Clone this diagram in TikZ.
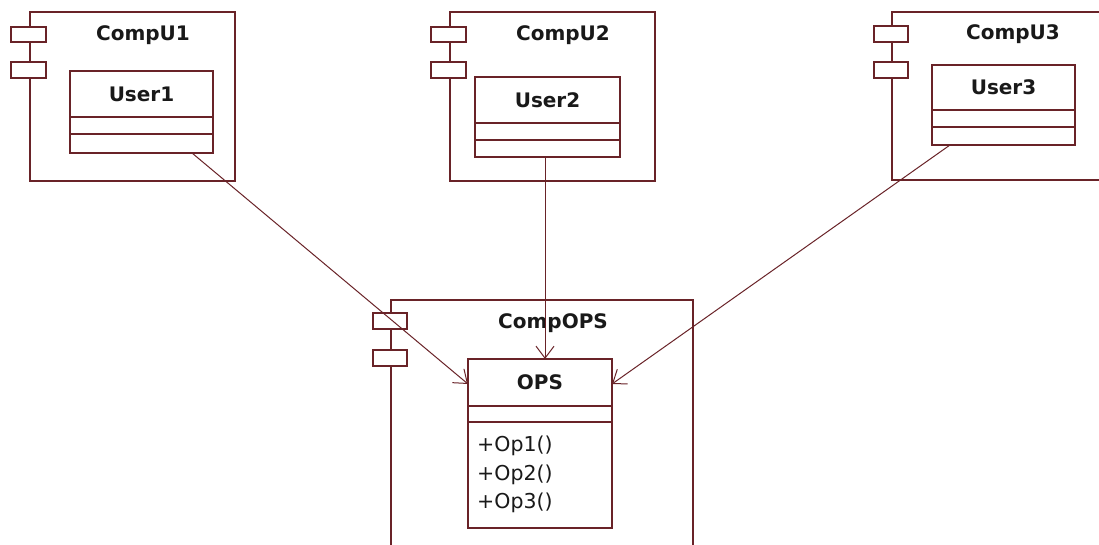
\documentclass[tikz,border=0pt]{standalone}
\usepackage{fontspec}
\setmainfont{DejaVu Sans}
\usetikzlibrary{arrows.meta}
\definecolor{umlline}{RGB}{105,35,40}
\definecolor{umltext}{RGB}{25,25,25}
\tikzset{
  box/.style={draw=umlline, line width=1.4pt, fill=white},
  port/.style={draw=umlline, line width=1.4pt, fill=white},
  divider/.style={draw=umlline, line width=1.4pt},
  ttl/.style={font=\fontsize{20}{23}\selectfont\bfseries, text=umltext, inner sep=0pt},
  optxt/.style={font=\fontsize{20.5}{24}\selectfont, text=umltext, inner sep=0pt, anchor=west},
  dep/.style={draw=umlline, line width=1pt, -{Straight Barb[length=12pt,width=18pt,line width=1pt]}}
}
\begin{document}
\begin{tikzpicture}[x=1pt,y=-1pt]
\useasboundingbox[fill=white] (0,0) rectangle (1099,545);
% ---------- CompU1 ----------
\draw[box] (30,12) rectangle (235,181);
\draw[port] (11,27) rectangle (46,42);
\draw[port] (11,62) rectangle (46,78);
\node[ttl] (t1) at (143,35) {CompU1};
\draw[box] (70,71) rectangle (213,153);
\draw[divider] (70,117) -- (213,117);
\draw[divider] (70,134) -- (213,134);
\node[ttl] (u1) at (141.5,94) {User1};
\coordinate (u1s) at (192,153);
% ---------- CompU2 ----------
\draw[box] (450,12) rectangle (655,181);
\draw[port] (431,27) rectangle (466,42);
\draw[port] (431,62) rectangle (466,78);
\node[ttl] (t2) at (563,35) {CompU2};
\draw[box] (475,77) rectangle (620,157);
\draw[divider] (475,123) -- (620,123);
\draw[divider] (475,140) -- (620,140);
\node[ttl] (u2) at (547.5,100) {User2};
\coordinate (u2s) at (545,157);
% ---------- CompU3 ----------
\draw[box] (892,12) rectangle (1110,180);
\draw[port] (874,26) rectangle (908,42);
\draw[port] (874,62) rectangle (908,78);
\node[ttl] (t3) at (1013,34) {CompU3};
\draw[box] (932,65) rectangle (1075,145);
\draw[divider] (932,110) -- (1075,110);
\draw[divider] (932,127) -- (1075,127);
\node[ttl] (u3) at (1003.5,87) {User3};
\coordinate (u3s) at (950,145);
% ---------- CompOPS ----------
\draw[box] (391,300) rectangle (693,560);
\draw[port] (373,313) rectangle (407,329);
\draw[port] (373,350) rectangle (407,366);
\node[ttl] (t4) at (553,323) {CompOPS};
\draw[box] (468,359) rectangle (612,528);
\draw[divider] (468,406) -- (612,406);
\draw[divider] (468,422) -- (612,422);
\node[ttl] (ops) at (540,382) {OPS};
\node[optxt] (op1) at (477,446) {+Op1()};
\node[optxt] (op2) at (477,474.5) {+Op2()};
\node[optxt] (op3) at (477,503) {+Op3()};
\coordinate (opsL) at (468,384);
\coordinate (opsT) at (545,359);
\coordinate (opsR) at (612,384);
% ---------- dependencies ----------
\draw[dep] (u1s) -- (opsL);
\draw[dep] (u2s) -- (opsT);
\draw[dep] (u3s) -- (opsR);
\end{tikzpicture}
\end{document}
